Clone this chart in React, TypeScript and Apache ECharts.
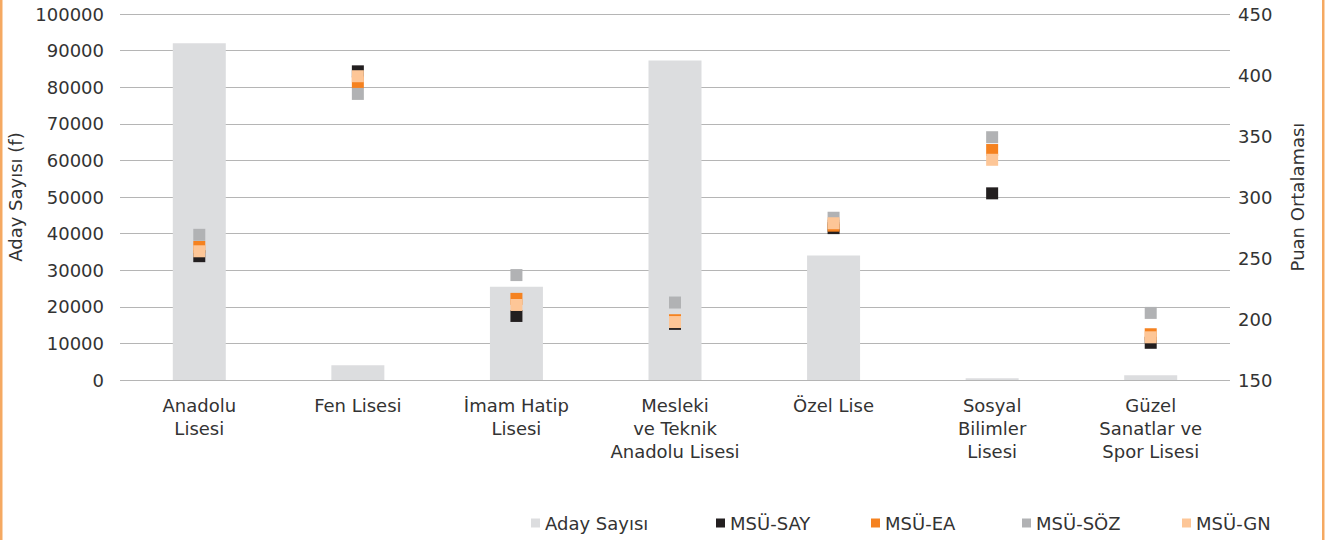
import React, { useEffect, useRef } from "react";
import * as echarts from "echarts";

const categories = [
  "Anadolu\nLisesi",
  "Fen Lisesi",
  "İmam Hatip\nLisesi",
  "Mesleki\nve Teknik\nAnadolu Lisesi",
  "Özel Lise",
  "Sosyal\nBilimler\nLisesi",
  "Güzel\nSanatlar ve\nSpor Lisesi",
];
const adaySayisi = [92000, 4000, 25500, 87300, 34000, 500, 1300];
const msuSay = [251.5, 403, 202.5, 196, 274.5, 303, 180.5];
const msuEa = [259, 394, 216.5, 199, 276.5, 338.5, 187.5];
const msuSoz = [269, 384.5, 236, 213.5, 283, 349, 205];
const msuGn = [255.5, 399, 211.5, 197.5, 278.5, 330.5, 185];
const legendNames = ["Aday Sayısı", "MSÜ-SAY", "MSÜ-EA", "MSÜ-SÖZ", "MSÜ-GN"];
const legendLefts = [526, 711, 866, 1017, 1177];

const FONT = "DejaVu Sans";
const TXT = "#333333";
const FS = 18;

export default function App() {
  const ref = useRef<HTMLDivElement>(null);
  useEffect(() => {
    document.body.style.margin = "0";
    const chart = echarts.init(ref.current!, null, { renderer: "svg" });
    const scatter = (name: string, data: number[], color: string) => ({
      name,
      type: "scatter",
      yAxisIndex: 1,
      symbol: "rect",
      symbolSize: 12,
      itemStyle: { color, opacity: 1 },
      data,
    });
    chart.setOption({
      animation: false,
      textStyle: { fontFamily: FONT },
      grid: { left: 120, right: 104, top: 14, bottom: 160, outerBoundsMode: "none", containLabel: false },
      graphic: [
        { type: "rect", shape: { x: 0, y: 0, width: 2.5, height: 540 }, style: { fill: "#f5a962" } },
        { type: "rect", shape: { x: 1322, y: 0, width: 2.5, height: 540 }, style: { fill: "#f5a962" } },
      ],
      legend: legendNames.map((n, i) => ({
        left: legendLefts[i],
        top: 509,
        itemWidth: 9,
        itemHeight: 9,
        itemGap: 8,
        icon: "rect",
        textStyle: { fontSize: FS, color: TXT, fontFamily: FONT },
        data: [n],
      })),
      xAxis: {
        type: "category",
        data: categories,
        axisLine: { show: false },
        axisTick: { show: false },
        axisLabel: {
          interval: 0,
          fontSize: FS,
          lineHeight: 23,
          color: TXT,
          margin: 14,
          fontFamily: FONT,
        },
      },
      yAxis: [
        {
          type: "value",
          min: 0,
          max: 100000,
          interval: 10000,
          name: "Aday Sayısı (f)",
          nameLocation: "middle",
          nameGap: 93,
          nameTextStyle: { fontSize: FS, color: TXT, fontFamily: FONT },
          axisLine: { show: false },
          axisTick: { show: false },
          axisLabel: {
            fontSize: FS,
            color: TXT,
            margin: 16,
            fontFamily: FONT,
            formatter: (v: number) => String(v),
          },
          splitLine: { lineStyle: { color: "#b5b5b5", width: 1 } },
        },
        {
          type: "value",
          min: 150,
          max: 450,
          interval: 50,
          name: "Puan Ortalaması",
          nameLocation: "middle",
          nameGap: 58,
          nameTextStyle: { fontSize: FS, color: TXT, fontFamily: FONT },
          axisLine: { show: false },
          axisTick: { show: false },
          axisLabel: { fontSize: FS, color: TXT, margin: 8, fontFamily: FONT },
          splitLine: { show: false },
        },
      ],
      series: [
        {
          name: "Aday Sayısı",
          type: "bar",
          yAxisIndex: 0,
          barWidth: 53,
          itemStyle: { color: "#dcdddf" },
          data: adaySayisi,
        },
        scatter("MSÜ-SAY", msuSay, "#231f20"),
        scatter("MSÜ-EA", msuEa, "#f58220"),
        scatter("MSÜ-SÖZ", msuSoz, "#b1b2b4"),
        scatter("MSÜ-GN", msuGn, "#fdc697"),
      ],
    });
    return () => chart.dispose();
  }, []);
  return <div ref={ref} style={{ width: 1334, height: 540 }} />;
}
